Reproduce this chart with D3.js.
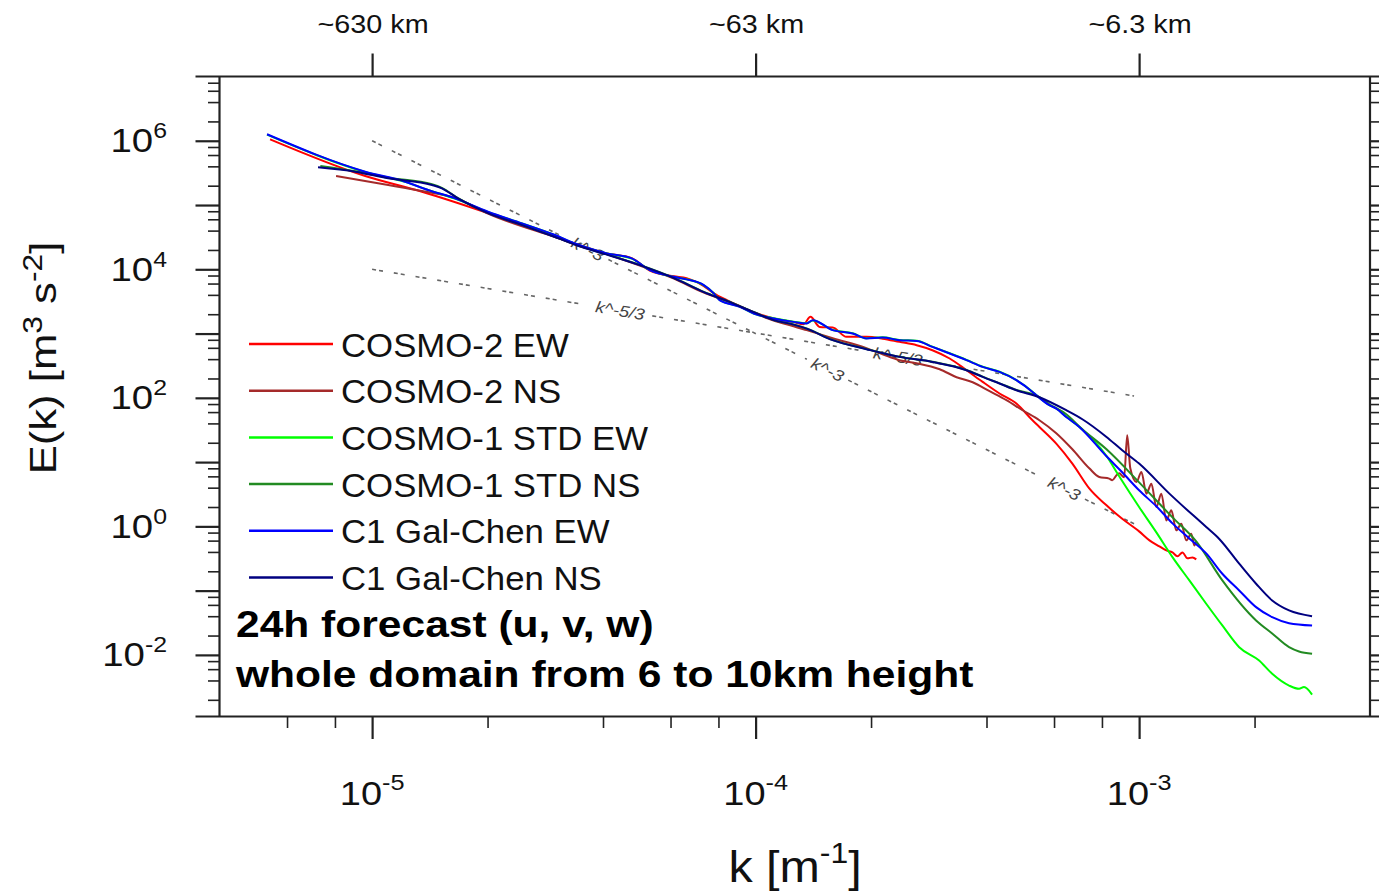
<!DOCTYPE html>
<html>
<head>
<meta charset="utf-8">
<script src="https://cdn.jsdelivr.net/npm/d3@7"></script>
<style>
  body { margin: 0; background: #fff; }
  svg { display: block; font-family: "Liberation Sans", Arial, Helvetica, sans-serif; }
</style>
</head>
<body>
<svg id="chart" width="1379" height="892"></svg>
<script>
/*
Kinetic energy spectra, 24h forecast
log-log plot, values kept as [log10 k, log10 E]
*/

// Series names (legend order = draw order)
var seriesNames = ["COSMO-2 EW", "COSMO-2 NS", "COSMO-1 STD EW", "COSMO-1 STD NS", "C1 Gal-Chen EW", "C1 Gal-Chen NS"];
var seriesColors = ["#ff0000", "#a52a2a", "#00ff00", "#228b22", "#0000ff", "#000080"];

// COSMO-2 EW
var cosmo2EW = [
  [-5.266, 6.023], [-5.018, 5.452], [-4.870, 5.207], [-4.698, 4.875], [-4.523, 4.506],
  [-4.453, 4.350], [-4.388, 4.245], [-4.323, 4.174], [-4.276, 3.980], [-4.213, 3.891],
  [-4.180, 3.863], [-4.135, 3.738], [-4.109, 3.625], [-4.075, 3.520], [-4.041, 3.427],
  [-4.005, 3.333], [-3.953, 3.235], [-3.901, 3.178], [-3.875, 3.146], [-3.857, 3.260],
  [-3.833, 3.104], [-3.799, 3.095], [-3.763, 2.949], [-3.711, 2.949], [-3.669, 2.921],
  [-3.625, 2.871], [-3.580, 2.819], [-3.539, 2.741], [-3.494, 2.612], [-3.450, 2.430],
  [-3.408, 2.248], [-3.364, 2.067], [-3.320, 1.911], [-3.278, 1.651], [-3.260, 1.547],
  [-3.216, 1.288], [-3.174, 0.977], [-3.130, 0.592], [-3.085, 0.327], [-3.044, 0.117],
  [-3.000, -0.078], [-2.973, -0.218], [-2.947, -0.312], [-2.929, -0.374], [-2.913, -0.405],
  [-2.900, -0.467], [-2.887, -0.405], [-2.874, -0.498], [-2.861, -0.483], [-2.851, -0.514]
];

// COSMO-2 NS
var cosmo2NS = [
  [-5.094, 5.452], [-4.958, 5.312], [-4.870, 5.218], [-4.776, 5.093], [-4.698, 4.868],
  [-4.523, 4.502], [-4.388, 4.237], [-4.302, 4.058], [-4.213, 3.855], [-4.135, 3.637],
  [-4.075, 3.505], [-4.005, 3.326], [-3.953, 3.201], [-3.901, 3.115], [-3.867, 3.053],
  [-3.799, 2.928], [-3.711, 2.773], [-3.669, 2.679], [-3.625, 2.586], [-3.580, 2.539],
  [-3.520, 2.445], [-3.476, 2.321], [-3.434, 2.243], [-3.390, 2.103], [-3.346, 1.963],
  [-3.304, 1.807], [-3.260, 1.651], [-3.216, 1.449], [-3.174, 1.199], [-3.130, 0.903],
  [-3.104, 0.768], [-3.078, 0.743], [-3.070, 0.717], [-3.059, 0.794], [-3.052, 0.826],
  [-3.039, 0.763], [-3.031, 1.417], [-3.023, 0.903], [-3.007, 0.690], [-2.994, 0.846],
  [-2.981, 0.509], [-2.968, 0.665], [-2.955, 0.301], [-2.942, 0.509], [-2.929, 0.093],
  [-2.916, 0.249], [-2.903, -0.062], [-2.890, 0.042], [-2.877, -0.218], [-2.864, -0.114],
  [-2.856, -0.296], [-2.851, -0.234]
];

// COSMO-1 STD EW
var cosmo1EW = [
  [-5.274, 6.095], [-5.018, 5.515], [-4.914, 5.360], [-4.854, 5.236], [-4.784, 5.100],
  [-4.698, 4.893], [-4.609, 4.712], [-4.523, 4.530], [-4.471, 4.400], [-4.404, 4.270],
  [-4.388, 4.245], [-4.323, 4.165], [-4.276, 3.990], [-4.213, 3.880], [-4.180, 3.845],
  [-4.135, 3.750], [-4.109, 3.628], [-4.094, 3.522], [-4.041, 3.418], [-4.005, 3.310],
  [-3.953, 3.238], [-3.901, 3.185], [-3.867, 3.160], [-3.851, 3.205], [-3.799, 3.056],
  [-3.747, 3.005], [-3.711, 2.927], [-3.669, 2.942], [-3.625, 2.900], [-3.580, 2.889],
  [-3.539, 2.796], [-3.494, 2.693], [-3.450, 2.589], [-3.408, 2.484], [-3.364, 2.406],
  [-3.320, 2.277], [-3.278, 2.095], [-3.268, 2.043], [-3.234, 1.888], [-3.216, 1.836],
  [-3.190, 1.705], [-3.156, 1.550], [-3.085, 1.095], [-3.052, 0.779], [-3.000, 0.301],
  [-2.955, -0.093], [-2.913, -0.478], [-2.869, -0.841], [-2.825, -1.204], [-2.783, -1.542],
  [-2.739, -1.880], [-2.687, -2.087], [-2.653, -2.294], [-2.609, -2.477], [-2.583, -2.528],
  [-2.570, -2.500], [-2.549, -2.617]
];

// COSMO-1 STD NS
var cosmo1NS = [
  [-5.135, 5.607], [-5.044, 5.525], [-4.958, 5.425], [-4.844, 5.325], [-4.818, 5.268],
  [-4.776, 5.108], [-4.698, 4.880], [-4.609, 4.692], [-4.523, 4.505], [-4.453, 4.350],
  [-4.388, 4.232], [-4.302, 4.068], [-4.213, 3.866], [-4.135, 3.648], [-4.075, 3.512],
  [-4.005, 3.336], [-3.953, 3.212], [-3.901, 3.142], [-3.867, 3.079], [-3.799, 2.900],
  [-3.711, 2.760], [-3.625, 2.640], [-3.539, 2.562], [-3.450, 2.433], [-3.408, 2.329],
  [-3.364, 2.226], [-3.320, 2.121], [-3.260, 2.012], [-3.234, 1.900], [-3.190, 1.745],
  [-3.148, 1.511], [-3.085, 1.199], [-3.000, 0.685], [-2.913, 0.140], [-2.851, -0.234],
  [-2.783, -0.841], [-2.695, -1.464], [-2.653, -1.667], [-2.609, -1.880], [-2.583, -1.947],
  [-2.549, -1.983]
];

// C1 Gal-Chen EW
var galChenEW = [
  [-5.274, 6.101], [-5.018, 5.519], [-4.914, 5.363], [-4.854, 5.234], [-4.784, 5.104],
  [-4.698, 4.896], [-4.609, 4.715], [-4.523, 4.533], [-4.471, 4.403], [-4.404, 4.273],
  [-4.388, 4.248], [-4.323, 4.170], [-4.276, 3.988], [-4.213, 3.883], [-4.180, 3.843],
  [-4.135, 3.754], [-4.109, 3.625], [-4.094, 3.520], [-4.041, 3.416], [-4.005, 3.313],
  [-3.953, 3.235], [-3.901, 3.182], [-3.867, 3.157], [-3.851, 3.209], [-3.799, 3.053],
  [-3.747, 3.002], [-3.711, 2.924], [-3.669, 2.939], [-3.625, 2.897], [-3.580, 2.886],
  [-3.539, 2.793], [-3.494, 2.690], [-3.450, 2.586], [-3.408, 2.481], [-3.364, 2.403],
  [-3.320, 2.274], [-3.278, 2.092], [-3.268, 2.040], [-3.234, 1.885], [-3.216, 1.833],
  [-3.190, 1.702], [-3.156, 1.547], [-3.085, 1.090], [-3.044, 0.841], [-3.000, 0.561],
  [-2.955, 0.312], [-2.913, 0.047], [-2.869, -0.187], [-2.825, -0.421], [-2.783, -0.737],
  [-2.739, -0.997], [-2.695, -1.257], [-2.653, -1.413], [-2.609, -1.506], [-2.549, -1.542]
];

// C1 Gal-Chen NS
var galChenNS = [
  [-5.141, 5.587], [-5.044, 5.519], [-4.958, 5.416], [-4.844, 5.312], [-4.818, 5.260],
  [-4.776, 5.104], [-4.698, 4.875], [-4.609, 4.688], [-4.523, 4.502], [-4.453, 4.346],
  [-4.388, 4.229], [-4.302, 4.065], [-4.213, 3.863], [-4.135, 3.645], [-4.075, 3.509],
  [-4.005, 3.333], [-3.953, 3.209], [-3.901, 3.139], [-3.867, 3.076], [-3.799, 2.897],
  [-3.711, 2.757], [-3.625, 2.637], [-3.539, 2.559], [-3.450, 2.430], [-3.408, 2.326],
  [-3.364, 2.223], [-3.320, 2.118], [-3.260, 2.009], [-3.190, 1.807], [-3.148, 1.667],
  [-3.085, 1.391], [-3.044, 1.184], [-3.000, 0.977], [-2.921, 0.509], [-2.825, -0.011],
  [-2.791, -0.196], [-2.739, -0.581], [-2.695, -0.893], [-2.653, -1.153], [-2.609, -1.308],
  [-2.549, -1.397]
];

var seriesData = [cosmo2EW, cosmo2NS, cosmo1EW, cosmo1NS, galChenEW, galChenNS];

// Reference slopes: endpoints [k, E] and where the labels sit (k)
var refLines = [
  { label: "k^-3",   k: [1e-5, 1e-3],   E: [1e6, 1],   labelK: [3.65e-5, 1.54e-4, 6.38e-4] },
  { label: "k^-5/3", k: [1e-5, 9.7e-4], E: [1e4, 107], labelK: [4.43e-5, 2.35e-4] }
];

// Axes
var kDomain = [4e-6, 4e-3];
var eDomain = [1.1e-3, 1e7];
var xLabelExps = [-5, -4, -3];
var yLabelExps = [6, 4, 2, 0, -2];
var topLabels = ["~630 km", "~63 km", "~6.3 km"];
var noteLines = ["24h forecast (u, v, w)", "whole domain from 6 to 10km height"];

// ---------------------------------------------------------------

var svg = d3.select("#chart");
var plot = { left: 219.5, right: 1370, top: 76.5, bottom: 716.5 };
var axisColor = "#222";

var x = d3.scaleLog().domain(kDomain).range([plot.left, plot.right]);
var y = d3.scaleLog().domain(eDomain).range([plot.bottom, plot.top]);

function pow10(v) { return Math.pow(10, v); }

// ticks at m * 10^e inside the domain
function logTicks(domain, mult) {
  var out = [];
  var e0 = Math.floor(Math.log10(domain[0])), e1 = Math.ceil(Math.log10(domain[1]));
  for (var e = e0; e <= e1; e++) {
    mult.forEach(function(m) {
      var v = m * Math.pow(10, e);
      if (v > domain[0] * 1.001 && v < domain[1] * 0.999) out.push(v);
    });
  }
  return out;
}

// text with horizontal stretch (the original fonts are wide)
function stext(parent, px, py, sx, size) {
  return parent.append("text")
    .attr("transform", "translate(" + px + " " + py + ") scale(" + sx + " 1)")
    .style("font-size", size + "px")
    .style("fill", "#111");
}

svg.append("defs").append("clipPath").attr("id", "plotclip")
  .append("rect")
  .attr("x", plot.left).attr("y", plot.top)
  .attr("width", plot.right - plot.left).attr("height", plot.bottom - plot.top);

// Tick marks through d3 axes
function drawTicks(axis, tx, ty, width) {
  var g = svg.append("g")
    .attr("transform", "translate(" + tx + "," + ty + ")")
    .call(axis);
  g.select(".domain").remove();
  g.selectAll("text").remove();
  g.selectAll("line").style("stroke", axisColor).style("stroke-width", width);
  return g;
}

var yMajor = logTicks(eDomain, [1]);
var yMinor = logTicks(eDomain, [2, 4, 6, 8]);
var xMajor = logTicks(kDomain, [1]);
var xMinor = logTicks(kDomain, [2, 4, 6, 8]);

drawTicks(d3.axisLeft(y).tickValues(yMinor).tickSize(11.5).tickFormat(""), plot.left, 0, 1.6);
drawTicks(d3.axisLeft(y).tickValues(yMajor).tickSize(24).tickFormat(""), plot.left, 0, 2.2);
drawTicks(d3.axisRight(y).tickValues(yMinor).tickSize(11.5).tickFormat(""), plot.right, 0, 1.6);
drawTicks(d3.axisRight(y).tickValues(yMajor).tickSize(24).tickFormat(""), plot.right, 0, 2.2);
drawTicks(d3.axisBottom(x).tickValues(xMinor).tickSize(11.5).tickFormat(""), 0, plot.bottom, 1.6);
drawTicks(d3.axisBottom(x).tickValues(xMajor).tickSize(22.5).tickFormat(""), 0, plot.bottom, 2.2);
drawTicks(d3.axisTop(x).tickValues(xMajor).tickSize(23).tickFormat(""), 0, plot.top, 2.2);

// Frame (horizontal edges run out past the side ticks)
var frame = svg.append("g").attr("class", "frame")
  .style("stroke", axisColor).style("stroke-width", 2.2);
frame.append("line").attr("x1", plot.left - 24).attr("x2", plot.right + 24).attr("y1", plot.top).attr("y2", plot.top);
frame.append("line").attr("x1", plot.left - 24).attr("x2", plot.right + 24).attr("y1", plot.bottom).attr("y2", plot.bottom);
frame.append("line").attr("x1", plot.left).attr("x2", plot.left).attr("y1", plot.top).attr("y2", plot.bottom);
frame.append("line").attr("x1", plot.right).attr("x2", plot.right).attr("y1", plot.top).attr("y2", plot.bottom);

// Y tick labels 10^n
yLabelExps.forEach(function(e) {
  var t = stext(svg, 167, y(pow10(e)) + 11.5, 1.13, 34).attr("text-anchor", "end");
  t.append("tspan").text("10");
  t.append("tspan").attr("dy", -14).style("font-size", "22px").text(e);
});

// X tick labels 10^n
xLabelExps.forEach(function(e) {
  var t = stext(svg, x(pow10(e)), 805, 1.15, 33).attr("text-anchor", "middle");
  t.append("tspan").text("10");
  t.append("tspan").attr("dy", -15).style("font-size", "22px").text(e);
});

// Top wavelength labels
xLabelExps.forEach(function(e, i) {
  stext(svg, x(pow10(e)) + 1, 33, 1.15, 25).attr("text-anchor", "middle").text(topLabels[i]);
});

// Axis titles
var yt = svg.append("text")
  .attr("transform", "translate(56 358) rotate(-90) scale(1.18 1)")
  .attr("text-anchor", "middle")
  .style("font-size", "37px").style("fill", "#111");
yt.append("tspan").text("E(k) [m");
yt.append("tspan").attr("dy", -14).style("font-size", "27px").text("3");
yt.append("tspan").attr("dy", 14).text(" s");
yt.append("tspan").attr("dy", -14).style("font-size", "27px").text("-2");
yt.append("tspan").attr("dy", 14).text("]");

var xt = stext(svg, 795, 882, 1.1, 44).attr("text-anchor", "middle");
xt.append("tspan").text("k [m");
xt.append("tspan").attr("dy", -19).style("font-size", "29px").text("-1");
xt.append("tspan").attr("dy", 19).text("]");

// Reference slopes, dashed with gaps for labels
var refG = svg.append("g").attr("clip-path", "url(#plotclip)");
refLines.forEach(function(r) {
  var x0 = x(r.k[0]), y0 = y(r.E[0]), x1 = x(r.k[1]), y1 = y(r.E[1]);
  var len = Math.sqrt((x1 - x0) * (x1 - x0) + (y1 - y0) * (y1 - y0));
  var ang = Math.atan2(y1 - y0, x1 - x0) * 180 / Math.PI;
  var halfGap = (r.label.length * 16 * 0.52 * 1.15) / 2 + 4;
  var cuts = r.labelK.map(function(k) { return (x(k) - x0) / (x1 - x0); });
  var t0 = 0;
  var segs = [];
  cuts.forEach(function(tc) {
    segs.push([t0, tc - halfGap / len]);
    t0 = tc + halfGap / len;
  });
  segs.push([t0, 1]);
  segs.forEach(function(s) {
    refG.append("line")
      .attr("x1", x0 + s[0] * (x1 - x0)).attr("y1", y0 + s[0] * (y1 - y0))
      .attr("x2", x0 + s[1] * (x1 - x0)).attr("y2", y0 + s[1] * (y1 - y0))
      .style("stroke", "#666")
      .style("stroke-width", 1.6)
      .style("stroke-dasharray", "4,3,4,11");
  });
  cuts.forEach(function(tc) {
    var cx = x0 + tc * (x1 - x0), cy = y0 + tc * (y1 - y0);
    refG.append("text")
      .attr("transform", "translate(" + cx + " " + cy + ") rotate(" + ang + ") scale(1.15 1)")
      .attr("text-anchor", "middle")
      .attr("dy", "0.35em")
      .style("font-size", "16px")
      .style("font-style", "italic")
      .style("fill", "#444")
      .text(r.label);
  });
});

// Spectra
var line = d3.line()
  .curve(d3.curveMonotoneX)
  .x(function(d) { return x(pow10(d[0])); })
  .y(function(d) { return y(pow10(d[1])); });

var curves = svg.append("g").attr("clip-path", "url(#plotclip)");
seriesData.forEach(function(d, i) {
  curves.append("path")
    .datum(d)
    .attr("d", line)
    .style("fill", "none")
    .style("stroke", seriesColors[i])
    .style("stroke-width", 2)
    .style("stroke-linejoin", "round");
});

// Legend
var legend = svg.append("g").attr("class", "legend");
seriesNames.forEach(function(name, i) {
  var ly = 344 + i * 46.7;
  legend.append("line")
    .attr("x1", 249).attr("x2", 333).attr("y1", ly).attr("y2", ly)
    .style("stroke", seriesColors[i]).style("stroke-width", 2.5);
  stext(legend, 341, ly + 12.5, 1.07, 32.5).text(name);
});

// Note
noteLines.forEach(function(s, i) {
  stext(svg, 236, 636.5 + i * 50.5, 1.15, 37)
    .style("font-weight", "bold")
    .style("fill", "#000")
    .text(s);
});
</script>
</body>
</html>
